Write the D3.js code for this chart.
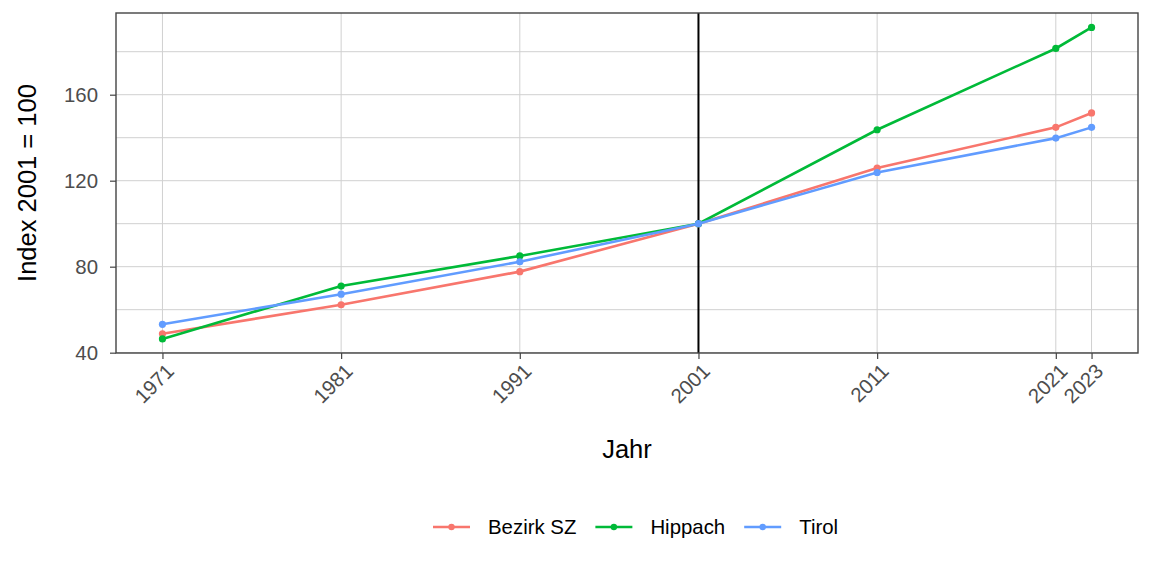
<!DOCTYPE html>
<html>
<head>
<meta charset="utf-8">
<script src="https://cdn.jsdelivr.net/npm/d3@7"></script>
<style>
  html, body { margin: 0; padding: 0; background: #fff; }
  svg { display: block; font-family: "Liberation Sans", Arial, sans-serif; }
</style>
</head>
<body>
<svg id="chart" width="1152" height="576"></svg>
<script>
const years = [1971, 1981, 1991, 2001, 2011, 2021, 2023];
const seriesNames = ["Bezirk SZ", "Hippach", "Tirol"];
const bezirkSZ = [48.8, 62.3, 77.7, 100, 125.9, 144.8, 151.5];
const hippach  = [46.4, 71.0, 85.0, 100, 143.7, 181.5, 191.3];
const tirol    = [53.2, 67.2, 82.3, 100, 123.8, 139.8, 144.8];
const colors = ["#F8766D", "#00BA38", "#619CFF"];
const yTicks = [40, 80, 120, 160];
const yMinor = [60, 100, 140, 180];
const refYear = 2001;

const seriesValues = [bezirkSZ, hippach, tirol];
const series = seriesNames.map((name, i) => ({
  name, color: colors[i],
  values: years.map((y, j) => ({ year: y, value: seriesValues[i][j] }))
}));

const svg = d3.select("#chart");
const panel = { left: 116, right: 1138, top: 13, bottom: 353 };

const x = d3.scaleLinear().domain([1971 - 2.6, 2023 + 2.6]).range([panel.left, panel.right]);
const y = d3.scaleLinear().domain([39.85, 198.0]).range([panel.bottom, panel.top]);

const g = svg.append("g");
const gridColor = "#d0d0d0";

// grid
g.selectAll("line.hminor").data(yMinor).join("line")
  .attr("x1", panel.left).attr("x2", panel.right)
  .attr("y1", d => y(d)).attr("y2", d => y(d))
  .attr("stroke", gridColor).attr("stroke-width", 1);
g.selectAll("line.hmajor").data(yTicks).join("line")
  .attr("x1", panel.left).attr("x2", panel.right)
  .attr("y1", d => y(d)).attr("y2", d => y(d))
  .attr("stroke", gridColor).attr("stroke-width", 1);
g.selectAll("line.vmajor").data(years).join("line")
  .attr("x1", d => x(d)).attr("x2", d => x(d))
  .attr("y1", panel.top).attr("y2", panel.bottom)
  .attr("stroke", gridColor).attr("stroke-width", 1);

// reference line
g.append("line")
  .attr("x1", x(refYear)).attr("x2", x(refYear))
  .attr("y1", panel.top).attr("y2", panel.bottom)
  .attr("stroke", "#000").attr("stroke-width", 2);

// lines
const line = d3.line().x(d => x(d.year)).y(d => y(d.value));
series.forEach(s => {
  g.append("path").datum(s.values)
    .attr("d", line).attr("fill", "none")
    .attr("stroke", s.color).attr("stroke-width", 2.6);
  g.selectAll(null).data(s.values).join("circle")
    .attr("cx", d => x(d.year)).attr("cy", d => y(d.value))
    .attr("r", 3.6).attr("fill", s.color);
});

// panel border
g.append("rect")
  .attr("x", panel.left).attr("y", panel.top)
  .attr("width", panel.right - panel.left).attr("height", panel.bottom - panel.top)
  .attr("fill", "none").attr("stroke", "#444").attr("stroke-width", 1.4);

// y axis
const yAxis = d3.axisLeft(y).tickValues(yTicks).tickSize(6).tickPadding(12);
const ya = svg.append("g").attr("transform", `translate(${panel.left},0)`).call(yAxis);
ya.select(".domain").remove();
ya.selectAll(".tick line").attr("stroke", "#444").attr("stroke-width", 1.2);
ya.selectAll(".tick text").attr("fill", "#4D4D4D").style("font-size", "20.4px")
  .style("font-family", "'Liberation Sans', Arial, sans-serif");

// x axis
const xAxis = d3.axisBottom(x).tickValues(years).tickFormat(d3.format("d")).tickSize(6);
const xa = svg.append("g").attr("transform", `translate(0,${panel.bottom})`).call(xAxis);
xa.select(".domain").remove();
xa.selectAll(".tick line").attr("stroke", "#444").attr("stroke-width", 1.2);
xa.selectAll(".tick text")
  .attr("fill", "#4D4D4D").style("font-size", "20.4px")
  .style("font-family", "'Liberation Sans', Arial, sans-serif")
  .attr("text-anchor", "end")
  .attr("x", 0).attr("y", 0).attr("dy", "0.72em")
  .attr("transform", "translate(2,9) rotate(-45)");

// axis titles
svg.append("text")
  .attr("x", (panel.left + panel.right) / 2).attr("y", 458)
  .attr("text-anchor", "middle").style("font-size", "25.5px").attr("fill", "#000")
  .text("Jahr");
svg.append("text")
  .attr("transform", `translate(36,${(panel.top + panel.bottom) / 2}) rotate(-90)`)
  .attr("text-anchor", "middle").style("font-size", "25.5px").attr("fill", "#000")
  .text("Index 2001 = 100");

// legend
const lg = svg.append("g");
let lx = 433;
const ly = 527;
series.forEach(s => {
  const item = lg.append("g");
  item.append("line").attr("x1", lx).attr("x2", lx + 37).attr("y1", ly).attr("y2", ly)
    .attr("stroke", s.color).attr("stroke-width", 2.6);
  item.append("circle").attr("cx", lx + 18.5).attr("cy", ly).attr("r", 3.2).attr("fill", s.color);
  const t = item.append("text").attr("x", lx + 55).attr("y", ly).attr("dy", "0.36em")
    .style("font-size", "20.4px").attr("fill", "#000").text(s.name);
  const w = t.node().getComputedTextLength();
  lx = lx + 55 + w + 19;
});
</script>
</body>
</html>
